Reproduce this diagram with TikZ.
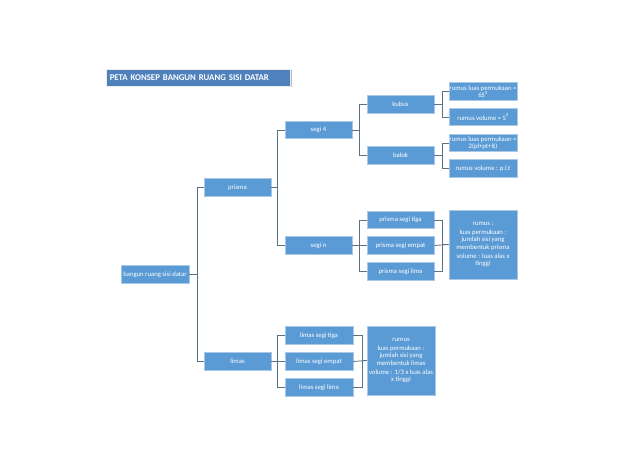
\documentclass[tikz,border=0pt]{standalone}
\usepackage{fontspec}
\setmainfont{Carlito}
\definecolor{boxblue}{HTML}{5B9BD5}
\definecolor{boxedge}{HTML}{A9C8E8}
\definecolor{titleblue}{HTML}{4F81BD}
\definecolor{linec}{HTML}{5A7283}
\begin{document}
\begin{tikzpicture}[x=1pt,y=-1pt,
  bx/.style={draw=boxedge,line width=0.6pt,fill=boxblue,text=white,
    font=\fontsize{6.7}{7.2}\selectfont,align=center,inner sep=0pt,
    minimum width=67pt,minimum height=17.5pt},
  bigbx/.style={bx,minimum width=68pt},
  con/.style={draw=linec,line width=0.8pt}]
\useasboundingbox (0,0) rectangle (638,452);
% title
\fill[gray!55] (107,70.5) rectangle (292,87.5);
\node[fill=titleblue,draw=white!85!gray,line width=0.5pt,text=white,
  font=\fontsize{8.8}{9}\selectfont\bfseries,inner sep=0pt,anchor=west,
  minimum height=17pt,text width=176pt,inner xsep=4pt] (title) at (105.5,77.5)
  {PETA KONSEP BANGUN RUANG SISI DATAR};
% level 0
\node[bx,minimum width=68pt] (root) at (155,274.5) {bangun ruang sisi datar};
% level 1
\node[bx] (prisma) at (237.5,187.5) {prisma};
\node[bx] (limas) at (237.5,361.5) {limas};
% level 2
\node[bx] (segi4) at (318.5,130) {segi 4};
\node[bx] (segin) at (318.5,245.5) {segi n};
\node[bx,minimum width=68pt] (lt) at (319,335.5) {limas segi tiga};
\node[bx,minimum width=68pt] (le) at (319,361.5) {limas segi empat};
\node[bx,minimum width=68pt] (ll) at (319,387.5) {limas segi lima};
% level 3
\node[bx] (kubus) at (400.5,104.5) {kubus};
\node[bx] (balok) at (400.5,155.5) {balok};
\node[bx] (pt) at (400.5,220) {prisma segi tiga};
\node[bx] (pe) at (400.5,245.5) {prisma segi empat};
\node[bx] (pl) at (400.5,271.5) {prisma segi lima};
\node[bigbx,minimum height=69pt] (rl) at (401,360.5)
  {rumus\\[2pt]luas permukaan :\\jumlah sisi yang\\membentuk limas\\[2pt]volume : 1/3 x luas alas\\x tinggi};
% level 4
\node[bigbx] (k1) at (483,91.5) {rumus luas permukaan =\\6S\textsuperscript{2}};
\node[bigbx] (k2) at (483,117) {rumus volume = S\textsuperscript{3}};
\node[bigbx] (b1) at (483,143) {rumus luas permukaan =\\2(pl+pt+lt)};
\node[bigbx] (b2) at (483,168.5) {rumus volume : p.l.t};
\node[bigbx,minimum height=69pt] (rp) at (483,244.5)
  {rumus :\\[2pt]luas permukaan :\\jumlah sisi yang\\membentuk prisma\\[2pt]volume : luas alas x\\tinggi};
% connectors
\draw[con] (root.east) -- ++(8,0) |- (prisma.west);
\draw[con] (root.east) -- ++(8,0) |- (limas.west);
\draw[con] (prisma.east) -- ++(6,0) |- (segi4.west);
\draw[con] (prisma.east) -- ++(6,0) |- (segin.west);
\draw[con] (limas.east) -- ++(6,0) |- (lt.west);
\draw[con] (limas.east) -- (le.west);
\draw[con] (limas.east) -- ++(6,0) |- (ll.west);
\draw[con] (segi4.east) -- ++(7,0) |- (kubus.west);
\draw[con] (segi4.east) -- ++(7,0) |- (balok.west);
\draw[con] (segin.east) -- ++(7,0) |- (pt.west);
\draw[con] (segin.east) -- (pe.west);
\draw[con] (segin.east) -- ++(7,0) |- (pl.west);
\draw[con] (kubus.east) -- ++(8,0) |- (k1.west);
\draw[con] (kubus.east) -- ++(8,0) |- (k2.west);
\draw[con] (balok.east) -- ++(8,0) |- (b1.west);
\draw[con] (balok.east) -- ++(8,0) |- (b2.west);
\draw[con] (pt.east) -- ++(8,0) |- (rp.west);
\draw[con] (pe.east) -- (rp.west);
\draw[con] (pl.east) -- ++(8,0) |- (rp.west);
\draw[con] (lt.east) -- ++(9,0) |- (rl.west);
\draw[con] (le.east) -- (rl.west);
\draw[con] (ll.east) -- ++(9,0) |- (rl.west);
\end{tikzpicture}
\end{document}
